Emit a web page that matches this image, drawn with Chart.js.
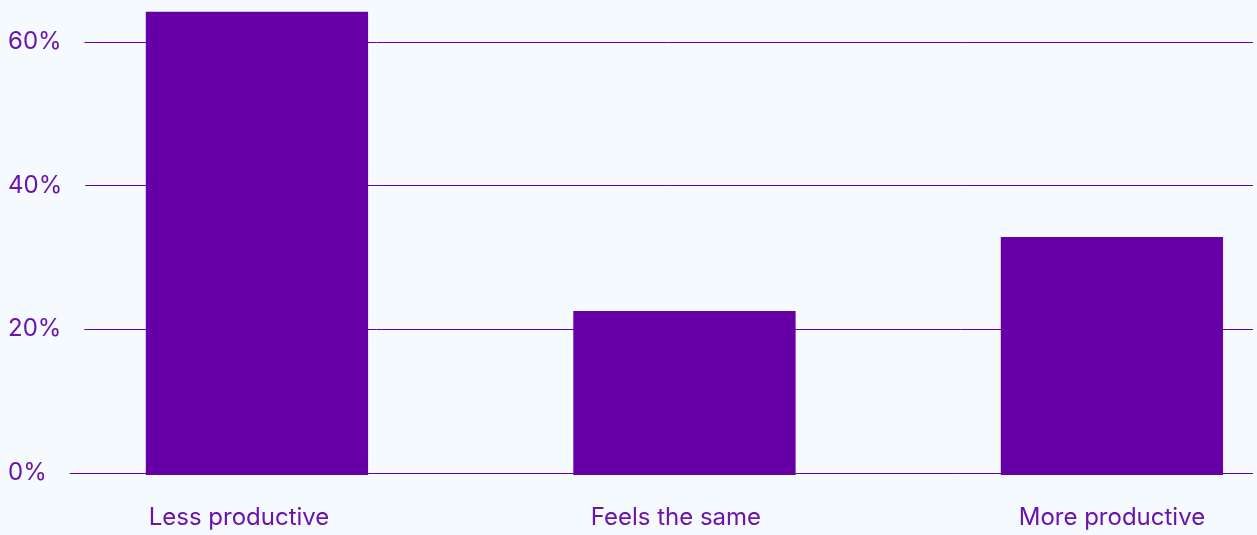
<!DOCTYPE html>
<html>
<head>
<meta charset="utf-8">
<script src="https://cdn.jsdelivr.net/npm/chart.js@4/dist/chart.umd.min.js"></script>
<style>
  html, body { margin: 0; padding: 0; background: #f5faff; }
  #wrap { width: 1257px; height: 535px; position: relative; }
</style>
</head>
<body>
<div id="wrap"><canvas id="c"></canvas></div>
<script>
// Survey answers and their shares (percent of respondents)
const categories = ['Less productive', 'Feels the same', 'More productive'];
const shares = [64.2, 22.5, 32.8];
const yTicks = [0, 20, 40, 60];

const PURPLE = '#6600a6';
const TEXT = '#6b14ad';
const FONT = { family: 'Inter, "Open Sans", sans-serif', size: 24 };
// Category labels sit on a slightly wider pitch than the bars
const LABEL_SHIFT = [-0.042, -0.02, 0];

// Horizontal guide lines, each starting a fixed gap after its own tick label
const guideLines = {
  id: 'guideLines',
  beforeDatasetsDraw(chart) {
    const { ctx, scales: { y }, chartArea } = chart;
    ctx.save();
    ctx.font = `${FONT.size}px ${FONT.family}`;
    ctx.strokeStyle = PURPLE;
    ctx.lineWidth = 1;
    y.ticks.forEach(t => {
      const py = Math.round(y.getPixelForValue(t.value)) + 0.5;
      const w = ctx.measureText(t.value + '%').width;
      const x0 = y.left + w + 23;
      ctx.beginPath();
      ctx.moveTo(x0, py);
      ctx.lineTo(chartArea.right, py);
      ctx.stroke();
    });
    ctx.restore();
  }
};

new Chart(document.getElementById('c'), {
  type: 'bar',
  data: {
    datasets: [{
      data: shares.map((v, i) => ({ x: i, y: v })),
      backgroundColor: PURPLE,
      borderWidth: 0,
      base: -0.35,
      clip: false,
      categoryPercentage: 0.52,
      barPercentage: 1
    }]
  },
  options: {
    responsive: true,
    maintainAspectRatio: false,
    animation: false,
    layout: { padding: { left: 8, right: 4, top: 6, bottom: 0 } },
    plugins: { legend: { display: false }, tooltip: { enabled: false } },
    scales: {
      x: {
        type: 'linear',
        bounds: 'data',
        offset: false,
        min: -0.442,
        max: 2.330,
        afterBuildTicks: s => { s.ticks = categories.map((_, i) => ({ value: i + LABEL_SHIFT[i] })); },
        afterFit: s => { s.height = 62.5; },
        grid: { display: false, drawTicks: false },
        border: { display: false },
        ticks: {
          color: TEXT,
          font: FONT,
          padding: 31,
          autoSkip: false,
          maxRotation: 0,
          callback: (v, i) => categories[i]
        }
      },
      y: {
        min: 0,
        max: 65,
        afterBuildTicks: s => { s.ticks = yTicks.map(v => ({ value: v })); },
        afterFit: s => { s.width = 60; s.paddingTop = 0; s.paddingBottom = 0; },
        grid: { display: false, drawTicks: false },
        border: { display: false },
        ticks: {
          color: TEXT,
          font: FONT,
          crossAlign: 'far',
          padding: 0,
          callback: v => v + '%'
        }
      }
    }
  },
  plugins: [guideLines]
});
</script>
</body>
</html>
